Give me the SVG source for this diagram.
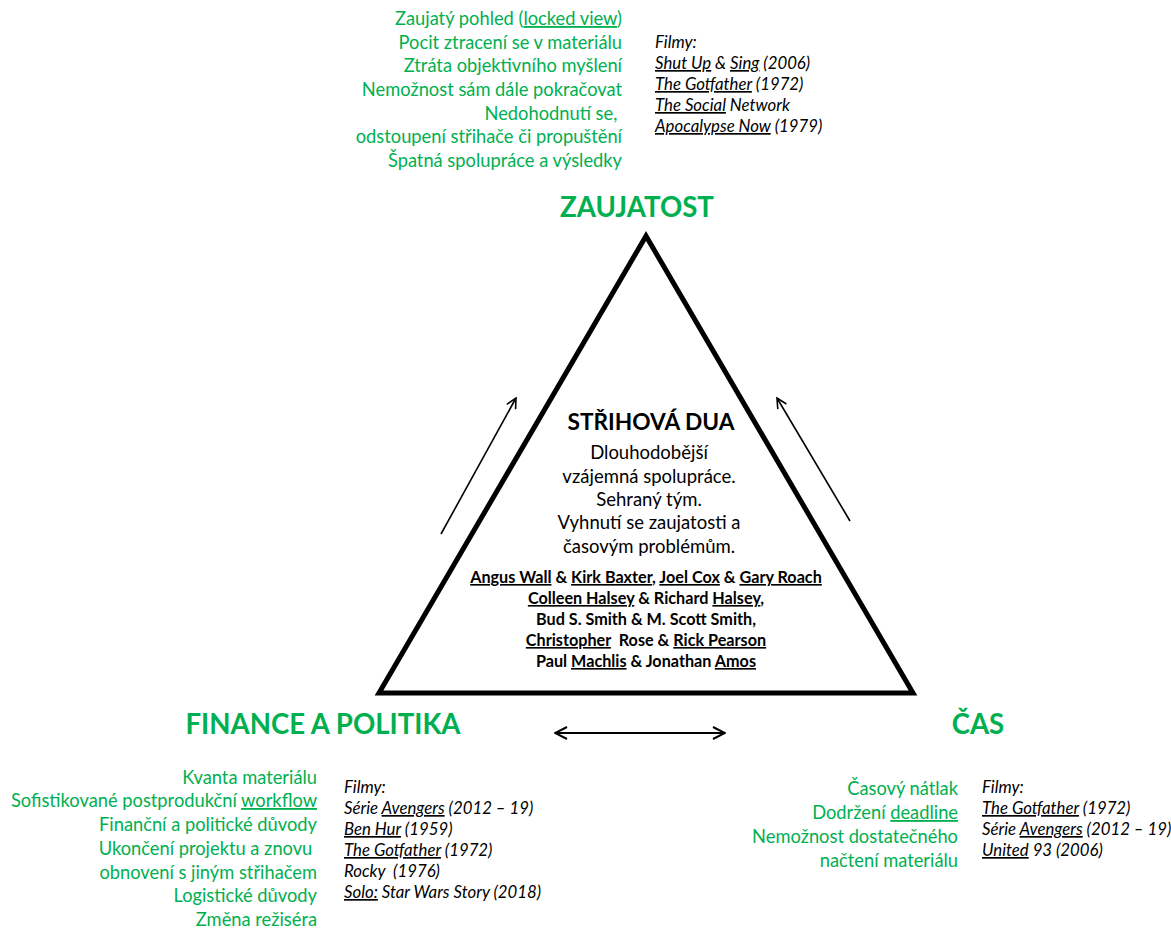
<svg xmlns="http://www.w3.org/2000/svg" width="1171" height="928" viewBox="0 0 1171 928">
  <defs>
    <marker id="open-head" viewBox="0 0 12 12" refX="11" refY="6" markerWidth="12" markerHeight="12" markerUnits="userSpaceOnUse" orient="auto-start-reverse">
      <path d="M1,1 L11,6 L1,11" fill="none" stroke="#000" stroke-width="1.6"/>
    </marker>
    <marker id="open-head-bold" viewBox="0 0 14 14" refX="13" refY="7" markerWidth="14" markerHeight="14" markerUnits="userSpaceOnUse" orient="auto-start-reverse">
      <path d="M1,1 L13,7 L1,13" fill="none" stroke="#000" stroke-width="2"/>
    </marker>
  </defs>
  <style>
    text { font-family: Lato, "Liberation Sans", sans-serif; white-space: pre; }
    .g { fill: #00B050; font-size: 18.3px; text-anchor: end; }
    .title { fill: #00B050; font-size: 27.6px; font-weight: bold; text-anchor: middle; }
    .film { fill: #000; font-size: 16.8px; font-style: italic; }
    .body { fill: #000; font-size: 18.5px; text-anchor: middle; }
    .head { fill: #000; font-size: 22.7px; font-weight: bold; text-anchor: middle; }
    .names { fill: #000; font-size: 16.2px; font-weight: bold; text-anchor: middle; }
    .sp { text-decoration: underline; }
  </style>
  <rect width="1171" height="928" fill="#fff"/>

  <!-- central triangle with the editing duo -->
  <g id="node-duo">
    <polygon points="646,236 379,693 913,693" fill="none" stroke="#000" stroke-width="5" stroke-linejoin="miter"/>
    <text class="head" x="651" y="430">STŘIHOVÁ DUA</text>
    <text class="body" x="649" y="459">Dlouhodobější</text>
    <text class="body" x="649" y="483">vzájemná spolupráce.</text>
    <text class="body" x="649" y="506">Sehraný tým.</text>
    <text class="body" x="649" y="529">Vyhnutí se zaujatosti a</text>
    <text class="body" x="649" y="553">časovým problémům.</text>
    <text class="names" x="646" y="583" xml:space="preserve"><tspan class="sp">Angus Wall</tspan> &amp; <tspan class="sp">Kirk Baxter</tspan>, <tspan class="sp">Joel Cox</tspan> &amp; <tspan class="sp">Gary Roach</tspan></text>
    <text class="names" x="646" y="604" xml:space="preserve"><tspan class="sp">Colleen Halsey</tspan> &amp; Richard <tspan class="sp">Halsey</tspan>,</text>
    <text class="names" x="646" y="625">Bud S. Smith &amp; M. Scott Smith,</text>
    <text class="names" x="646" y="646" xml:space="preserve"><tspan class="sp">Christopher</tspan>  Rose &amp; <tspan class="sp">Rick Pearson</tspan></text>
    <text class="names" x="646" y="667" xml:space="preserve">Paul <tspan class="sp">Machlis</tspan> &amp; Jonathan <tspan class="sp">Amos</tspan></text>
  </g>

  <!-- top corner: bias -->
  <g id="node-zaujatost">
    <text class="title" x="637" y="217">ZAUJATOST</text>
    <text class="g" x="622" y="25" xml:space="preserve">Zaujatý pohled (<tspan class="sp">locked view</tspan>)</text>
    <text class="g" x="622" y="49">Pocit ztracení se v materiálu</text>
    <text class="g" x="622" y="72">Ztráta objektivního myšlení</text>
    <text class="g" x="622" y="96">Nemožnost sám dále pokračovat</text>
    <text class="g" x="622" y="120" xml:space="preserve">Nedohodnutí se, </text>
    <text class="g" x="622" y="143">odstoupení střihače či propuštění</text>
    <text class="g" x="622" y="167">Špatná spolupráce a výsledky</text>
    <text class="film" x="655" y="48">Filmy:</text>
    <text class="film" x="655" y="69" xml:space="preserve"><tspan class="sp">Shut Up</tspan> &amp; <tspan class="sp">Sing</tspan> (2006)</text>
    <text class="film" x="655" y="90" xml:space="preserve"><tspan class="sp">The Gotfather</tspan> (1972)</text>
    <text class="film" x="655" y="111" xml:space="preserve"><tspan class="sp">The Social</tspan> Network</text>
    <text class="film" x="655" y="132" xml:space="preserve"><tspan class="sp">Apocalypse Now</tspan> (1979)</text>
  </g>

  <!-- bottom-left corner: finance and politics -->
  <g id="node-finance">
    <text class="title" x="323" y="734">FINANCE A POLITIKA</text>
    <text class="g" x="317" y="784">Kvanta materiálu</text>
    <text class="g" x="317" y="807" xml:space="preserve">Sofistikované postprodukční <tspan class="sp">workflow</tspan></text>
    <text class="g" x="317" y="831">Finanční a politické důvody</text>
    <text class="g" x="317" y="855" xml:space="preserve">Ukončení projektu a znovu </text>
    <text class="g" x="317" y="879">obnovení s jiným střihačem</text>
    <text class="g" x="317" y="902">Logistické důvody</text>
    <text class="g" x="317" y="926">Změna režiséra</text>
    <text class="film" x="344" y="793">Filmy:</text>
    <text class="film" x="344" y="814" xml:space="preserve">Série <tspan class="sp">Avengers</tspan> (2012 – 19)</text>
    <text class="film" x="344" y="835" xml:space="preserve"><tspan class="sp">Ben Hur</tspan> (1959)</text>
    <text class="film" x="344" y="856" xml:space="preserve"><tspan class="sp">The Gotfather</tspan> (1972)</text>
    <text class="film" x="344" y="877" xml:space="preserve">Rocky  (1976)</text>
    <text class="film" x="344" y="898" xml:space="preserve"><tspan class="sp">Solo:</tspan> Star Wars Story (2018)</text>
  </g>

  <!-- bottom-right corner: time -->
  <g id="node-cas">
    <text class="title" x="978" y="734">ČAS</text>
    <text class="g" x="958" y="795">Časový nátlak</text>
    <text class="g" x="958" y="819" xml:space="preserve">Dodržení <tspan class="sp">deadline</tspan></text>
    <text class="g" x="958" y="843">Nemožnost dostatečného</text>
    <text class="g" x="958" y="867">načtení materiálu</text>
    <text class="film" x="982" y="793">Filmy:</text>
    <text class="film" x="982" y="814" xml:space="preserve"><tspan class="sp">The Gotfather</tspan> (1972)</text>
    <text class="film" x="982" y="835" xml:space="preserve">Série <tspan class="sp">Avengers</tspan> (2012 – 19)</text>
    <text class="film" x="982" y="856" xml:space="preserve"><tspan class="sp">United</tspan> 93 (2006)</text>
  </g>

  <!-- pressure arrows -->
  <g id="connectors" fill="none" stroke="#000">
    <line x1="441" y1="534" x2="516" y2="398" stroke-width="1.6" marker-end="url(#open-head)"/>
    <line x1="850" y1="521" x2="777" y2="398" stroke-width="1.6" marker-end="url(#open-head)"/>
    <line x1="555" y1="733" x2="725" y2="733" stroke-width="2" marker-start="url(#open-head-bold)" marker-end="url(#open-head-bold)"/>
  </g>
</svg>
